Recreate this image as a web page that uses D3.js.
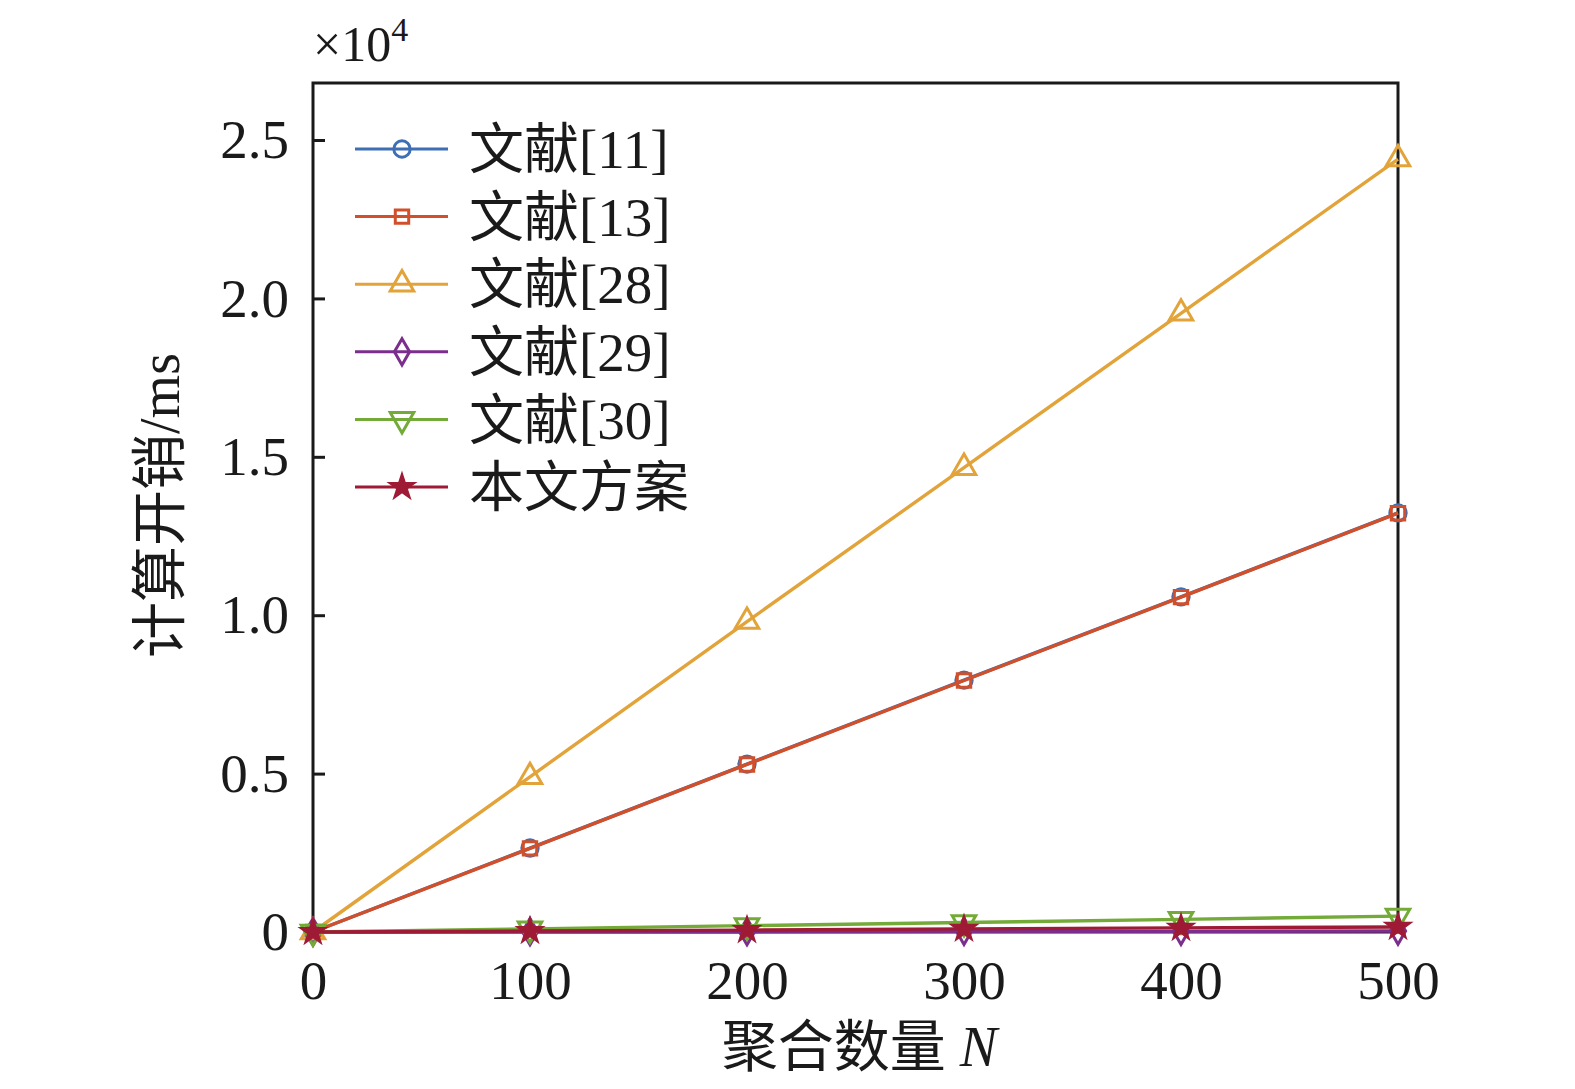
<!DOCTYPE html>
<html>
<head>
<meta charset="utf-8">
<script src="https://cdn.jsdelivr.net/npm/d3@7/dist/d3.min.js"></script>
<style>
  body { margin: 0; background: #fff; }
  text { font-family: "Liberation Serif", "Noto Sans CJK SC", serif; fill: #1a1a1a; }
</style>
</head>
<body>
<svg id="chart" width="1575" height="1089"></svg>
<script>
const svg = d3.select('#chart');

// Dati (x10^4 ms)
const nValues = [0, 100, 200, 300, 400, 500];
const ref11 = [0, 0.265, 0.53, 0.795, 1.058, 1.323];
const ref13 = [0, 0.264, 0.529, 0.794, 1.057, 1.322];
const ref28 = [0, 0.49, 0.98, 1.466, 1.953, 2.44];
const ref29 = [0, 0.001, 0.001, 0.002, 0.002, 0.003];
const ref30 = [0, 0.01, 0.02, 0.03, 0.04, 0.05];
const ours  = [0, 0.003, 0.006, 0.01, 0.013, 0.016];
const seriesNames = ['文献[11]', '文献[13]', '文献[28]', '文献[29]', '文献[30]', '本文方案'];
const xTicks = [0, 100, 200, 300, 400, 500];
const yTicks = [0, 0.5, 1.0, 1.5, 2.0, 2.5];

const series = [
  {name: seriesNames[0], values: ref11, color: '#3E6FB4', marker: 'circle'},
  {name: seriesNames[1], values: ref13, color: '#D1502B', marker: 'square'},
  {name: seriesNames[2], values: ref28, color: '#E2A43A', marker: 'triangle'},
  {name: seriesNames[3], values: ref29, color: '#7B2E8C', marker: 'diamond'},
  {name: seriesNames[4], values: ref30, color: '#73AA38', marker: 'triangleDown'},
  {name: seriesNames[5], values: ours,  color: '#9E1A35', marker: 'star'}
];

// Settaggi generali
const margin = {top: 83, right: 177, bottom: 157, left: 313};
const width = +svg.attr('width');
const height = +svg.attr('height');
const innerWidth = width - margin.left - margin.right;
const innerHeight = height - margin.top - margin.bottom;

const xScale = d3.scaleLinear().domain([0, 500]).range([0, innerWidth]);
const yScale = d3.scaleLinear().domain([0, 2.68]).range([innerHeight, 0]);

const g = svg.append('g')
  .attr('transform', `translate(${margin.left}, ${margin.top})`);

// Assi
const yAxis = d3.axisLeft(yScale)
  .tickValues(yTicks)
  .tickFormat(d => d === 0 ? '0' : d3.format('.1f')(d))
  .tickSizeInner(-12)
  .tickSizeOuter(0)
  .tickPadding(24);

const xAxis = d3.axisBottom(xScale)
  .tickValues(xTicks)
  .tickSizeInner(-12)
  .tickSizeOuter(0)
  .tickPadding(28);

const yAxisG = g.append('g').call(yAxis);
const xAxisG = g.append('g')
  .attr('transform', `translate(0, ${innerHeight})`)
  .call(xAxis);

[yAxisG, xAxisG].forEach(a => {
  a.select('.domain').remove();
  a.selectAll('line').attr('stroke', '#1a1a1a').attr('stroke-width', 3);
  a.selectAll('text').attr('font-size', 55).attr('fill', '#1a1a1a');
});
xAxisG.selectAll('text').attr('dy', '0.71em');

// Riquadro
g.append('rect')
  .attr('width', innerWidth)
  .attr('height', innerHeight)
  .attr('fill', 'none')
  .attr('stroke', '#1a1a1a')
  .attr('stroke-width', 3);

// Marker
const symbolFor = {
  circle: d3.symbol(d3.symbolCircle, 210),
  square: d3.symbol(d3.symbolSquare, 180),
  triangle: d3.symbol(d3.symbolTriangle, 240),
  diamond: d3.symbol(d3.symbolDiamond, 200),
  triangleDown: d3.symbol(d3.symbolTriangle, 240),
  star: d3.symbol(d3.symbolStar, 150)
};

function drawMarker(sel, s, x, y) {
  const rot = s.marker === 'triangleDown' ? 180 : 0;
  const p = sel.append('path')
    .attr('d', symbolFor[s.marker]())
    .attr('transform', `translate(${x}, ${y}) rotate(${rot})`)
    .attr('stroke', s.color)
    .attr('stroke-width', 3);
  if (s.marker === 'star') p.attr('fill', s.color);
  else p.attr('fill', 'none');
}

const lineGenerator = d3.line()
  .x((d, i) => xScale(nValues[i]))
  .y(d => yScale(d));

series.forEach(s => {
  g.append('path')
    .attr('d', lineGenerator(s.values))
    .attr('fill', 'none')
    .attr('stroke', s.color)
    .attr('stroke-width', 3.4);
  s.values.forEach((v, i) => drawMarker(g, s, xScale(nValues[i]), yScale(v)));
});

// Legenda
const legend = g.append('g').attr('transform', 'translate(42, 66)');
series.forEach((s, i) => {
  const row = legend.append('g').attr('transform', `translate(0, ${i * 67.6})`);
  row.append('line')
    .attr('x1', 0).attr('x2', 93)
    .attr('stroke', s.color).attr('stroke-width', 3);
  drawMarker(row, s, 47, 0);
  row.append('text')
    .attr('x', 114)
    .attr('y', 0)
    .attr('dy', '0.35em')
    .attr('font-size', 55)
    .text(s.name);
});

// Titoli assi
g.append('text')
  .attr('x', innerWidth / 2 + 4)
  .attr('y', innerHeight + 134)
  .attr('text-anchor', 'middle')
  .attr('font-size', 56)
  .html('聚合数量 <tspan font-style="italic">N</tspan>');

g.append('text')
  .attr('transform', 'rotate(-90)')
  .attr('x', -innerHeight / 2 + 2)
  .attr('y', -134)
  .attr('text-anchor', 'middle')
  .attr('font-size', 56)
  .text('计算开销/ms');

// Esponente
g.append('text')
  .attr('x', 0)
  .attr('y', -22)
  .attr('font-size', 50)
  .html('×10<tspan dy="-20" font-size="34">4</tspan>');
</script>
</body>
</html>
